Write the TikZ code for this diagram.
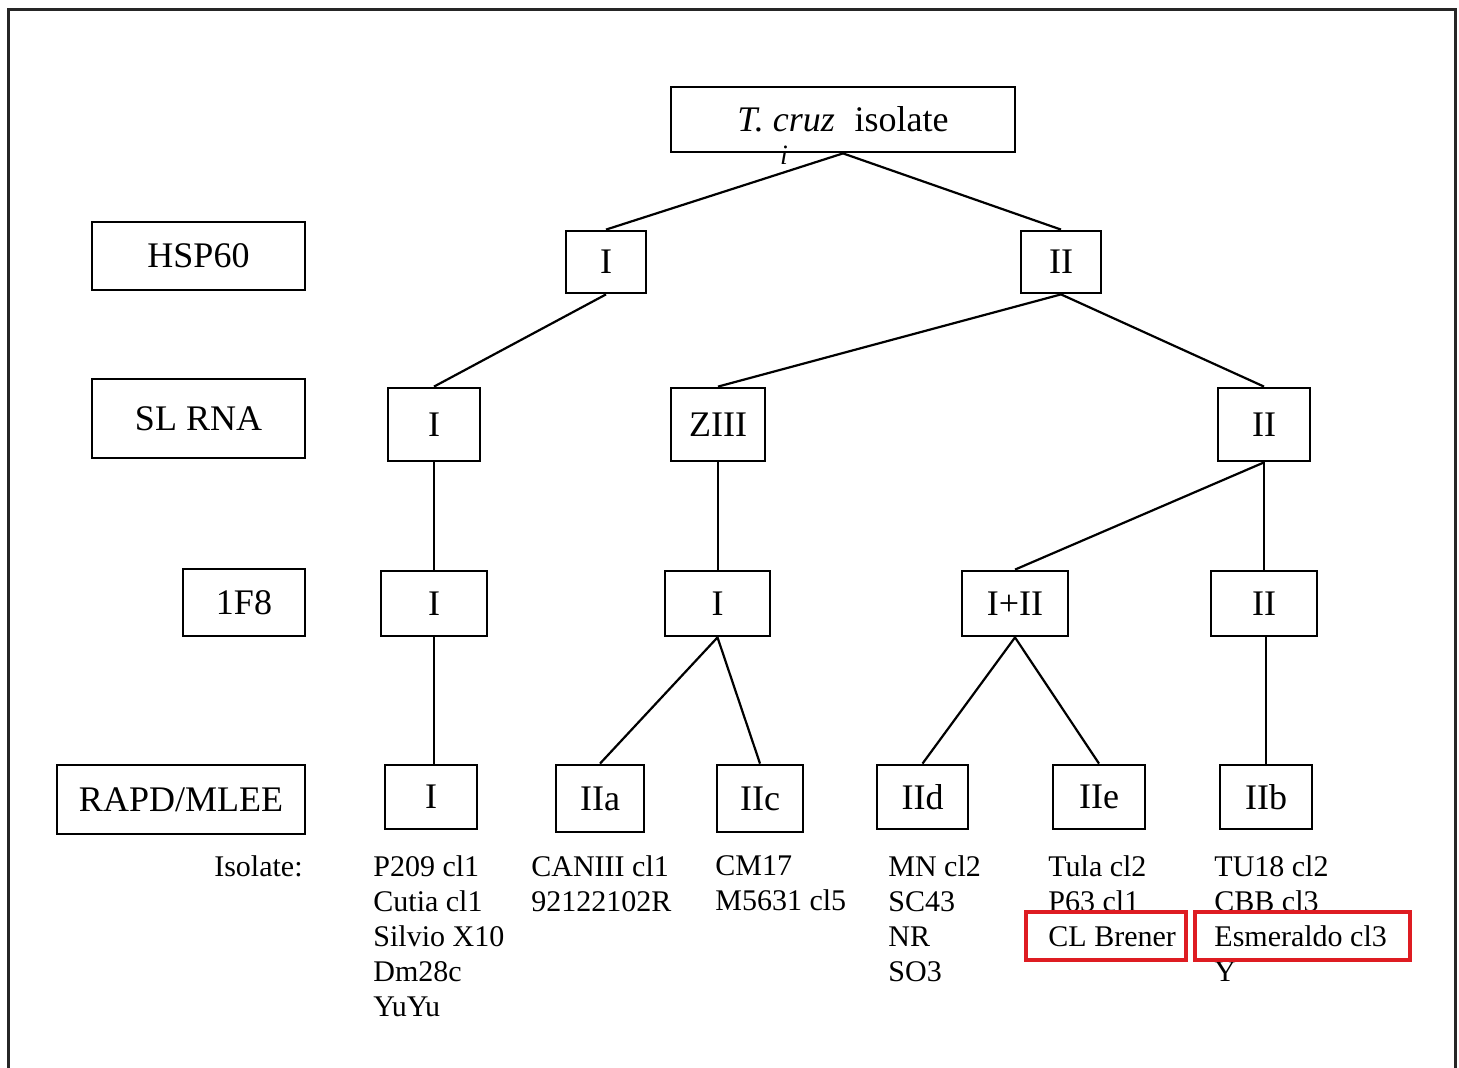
\documentclass[tikz,border=0pt]{standalone}
\usepackage{fontspec}
\setmainfont{Liberation Serif}
\definecolor{hl}{RGB}{222,28,34}
\begin{document}
\begin{tikzpicture}[x=0.5pt,y=-0.5pt,
  bx/.style={draw, line width=1.4pt, inner sep=0pt, font=\fontsize{18}{21}\selectfont},
  conn/.style={line width=1.1pt},
  iso/.style={anchor=north west, inner sep=0pt, align=left, font=\fontsize{15}{17.5}\selectfont},
  redbox/.style={draw=hl, line width=2pt}]
\useasboundingbox (0,0) rectangle (1459,1068);
% outer frame
\draw[line width=1.5pt, black!85] (8,1070) -- (8,10) -- (1455,10) -- (1455,1070);

% category labels
\node[bx, minimum width=106.5pt, minimum height=34pt] (lhsp) at (198.5,256) {HSP60};
\node[bx, minimum width=106.5pt, minimum height=39.5pt] (lsl) at (198.5,418.5) {SL RNA};
\node[bx, minimum width=61pt, minimum height=33.5pt] (lf8) at (244,602.5) {1F8};
\node[bx, minimum width=124pt, minimum height=34.5pt] (lrapd) at (181,799.5) {RAPD/MLEE};

% top
\node[bx, minimum width=172pt, minimum height=32.5pt] (top) at (843,119.5) {\textit{T. cruz}\hspace{0.3em} isolate};
\node[inner sep=0pt, font=\fontsize{14}{16}\selectfont\itshape] (stray) at (784,155) {i};

% HSP60 level
\node[bx, minimum width=40pt, minimum height=31pt] (h1) at (606,262) {I};
\node[bx, minimum width=40pt, minimum height=31pt] (h2) at (1061,262) {II};

% SL RNA level
\node[bx, minimum width=46pt, minimum height=36.5pt] (s1) at (434,424.5) {I};
\node[bx, minimum width=47pt, minimum height=36.5pt] (s2) at (718,424.5) {ZIII};
\node[bx, minimum width=46pt, minimum height=36.5pt] (s3) at (1264,424.5) {II};

% 1F8 level
\node[bx, minimum width=53pt, minimum height=32.5pt] (f1) at (434,603.5) {I};
\node[bx, minimum width=52.5pt, minimum height=32.5pt] (f2) at (717.5,603.5) {I};
\node[bx, minimum width=53pt, minimum height=32.5pt] (f3) at (1015,603.5) {I+II};
\node[bx, minimum width=53pt, minimum height=32.5pt] (f4) at (1264,603.5) {II};

% RAPD level
\node[bx, minimum width=46pt, minimum height=32pt] (r1) at (431,797) {I};
\node[bx, minimum width=44pt, minimum height=33.5pt] (r2) at (600,798.5) {IIa};
\node[bx, minimum width=43pt, minimum height=33.5pt] (r3) at (760,798.5) {IIc};
\node[bx, minimum width=45.5pt, minimum height=32pt] (r4) at (922.5,797) {IId};
\node[bx, minimum width=46pt, minimum height=32pt] (r5) at (1099,797) {IIe};
\node[bx, minimum width=46pt, minimum height=32pt] (r6) at (1266,797) {IIb};

% connectors
\draw[conn] (top.south) -- (h1.north);
\draw[conn] (top.south) -- (h2.north);
\draw[conn] (h1.south) -- (s1.north);
\draw[conn] (h2.south) -- (s2.north);
\draw[conn] (h2.south) -- (s3.north);
\draw[conn] (s1.south) -- (s1.south |- f1.north);
\draw[conn] (s2.south) -- (s2.south |- f2.north);
\draw[conn] (s3.south) -- (f3.north);
\draw[conn] (s3.south) -- (s3.south |- f4.north);
\draw[conn] (f1.south) -- (f1.south |- r1.north);
\draw[conn] (f2.south) -- (r2.north);
\draw[conn] (f2.south) -- (r3.north);
\draw[conn] (f3.south) -- (r4.north);
\draw[conn] (f3.south) -- (r5.north);
\draw[conn] (r6.north |- f4.south) -- (r6.north);

% isolates
\node[iso, anchor=north east] (isolab) at (303,855) {Isolate:};
\node[iso] (c1) at (373,855) {P209 cl1\\Cutia cl1\\Silvio X10\\Dm28c\\YuYu};
\node[iso] (c2) at (531,855) {CANIII cl1\\92122102R};
\node[iso] (c3) at (715,855) {CM17\\M5631 cl5};
\node[iso] (c4) at (888,855) {MN cl2\\SC43\\NR\\SO3};
\node[iso] (c5) at (1048,855) {Tula cl2\\P63 cl1\\CL Brener};
\node[iso] (c6) at (1214,855) {TU18 cl2\\CBB cl3\\Esmeraldo cl3\\Y};

% highlight boxes
\draw[redbox] (1026,912) rectangle (1186,960);
\draw[redbox] (1195,912) rectangle (1410,960);
\end{tikzpicture}
\end{document}
